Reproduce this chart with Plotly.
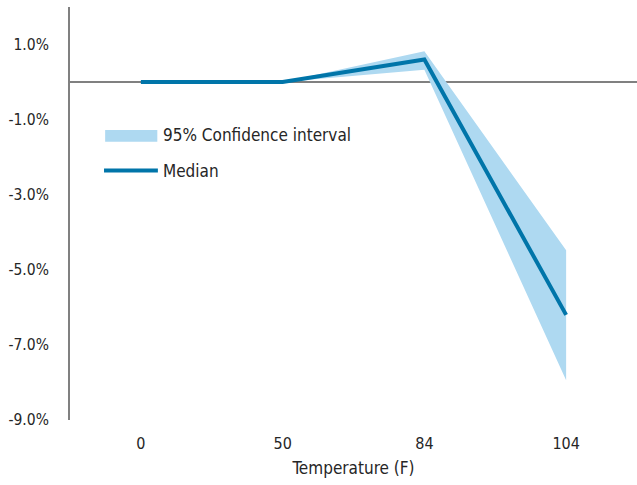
import plotly.graph_objects as go

# Temperature bins (categorical x axis)
temps = ["0", "50", "84", "104"]
# Median effect (%) and 95% confidence bounds (%)
median = [0.0, 0.0, 0.6, -6.2]
ci_upper = [0.0, 0.0, 0.82, -4.48]
ci_lower = [0.0, 0.0, 0.33, -7.94]

# y tick values and labels
y_ticks = [1, -1, -3, -5, -7, -9]
y_labels = ["1.0%", "-1.0%", "-3.0%", "-5.0%", "-7.0%", "-9.0%"]

FONT = "DejaVu Sans Condensed, sans-serif"
LINE_COLOR = "#0075A9"
FILL_COLOR = "#AED9F1"
TEXT_COLOR = "#262626"

fig = go.Figure()

fig.add_trace(go.Scatter(
    x=temps, y=ci_lower, mode="lines", line=dict(width=0, color=FILL_COLOR),
    showlegend=False, hoverinfo="skip",
))
fig.add_trace(go.Scatter(
    x=temps, y=ci_upper, mode="lines", line=dict(width=0, color=FILL_COLOR),
    fill="tonexty", fillcolor=FILL_COLOR, name="95% Confidence interval",
    showlegend=False,
))
fig.add_trace(go.Scatter(
    x=temps, y=median, mode="lines", line=dict(width=4, color=LINE_COLOR),
    name="Median", showlegend=False,
))

# Legend drawn with shapes and text in paper coordinates
fig.add_shape(type="rect", xref="paper", yref="paper",
              x0=0.062, x1=0.154, y0=0.702, y1=0.674,
              fillcolor=FILL_COLOR, line=dict(width=0))
fig.add_shape(type="line", xref="paper", yref="paper",
              x0=0.060, x1=0.155, y0=0.604, y1=0.604,
              line=dict(color=LINE_COLOR, width=4))
fig.add_annotation(xref="paper", yref="paper", x=0.160, y=0.689,
                   text="95% Confidence interval", showarrow=False,
                   xanchor="left", yanchor="middle",
                   font=dict(size=17, color=TEXT_COLOR, family=FONT))
fig.add_annotation(xref="paper", yref="paper", x=0.160, y=0.604,
                   text="Median", showarrow=False,
                   xanchor="left", yanchor="middle",
                   font=dict(size=17, color=TEXT_COLOR, family=FONT))

fig.update_layout(
    width=637, height=485,
    margin=dict(l=70, r=0, t=7, b=65),
    paper_bgcolor="white", plot_bgcolor="white",
    font=dict(family=FONT, color=TEXT_COLOR, size=16),
    showlegend=False,
    xaxis=dict(
        type="category", range=[-0.5, 3.5], showgrid=False, zeroline=False,
        showline=False, ticks="", tickfont=dict(size=16),
        ticklabelstandoff=12,
        title=dict(text="Temperature (F)", font=dict(size=17), standoff=10),
    ),
    yaxis=dict(
        range=[-9, 2], tickvals=y_ticks, ticktext=y_labels,
        showgrid=False, zeroline=True, zerolinecolor="#808080", zerolinewidth=2,
        showline=True, linecolor="#808080", linewidth=2, ticks="",
        ticklabelstandoff=16, tickfont=dict(size=15.5),
    ),
)

fig.write_html("out.html")
